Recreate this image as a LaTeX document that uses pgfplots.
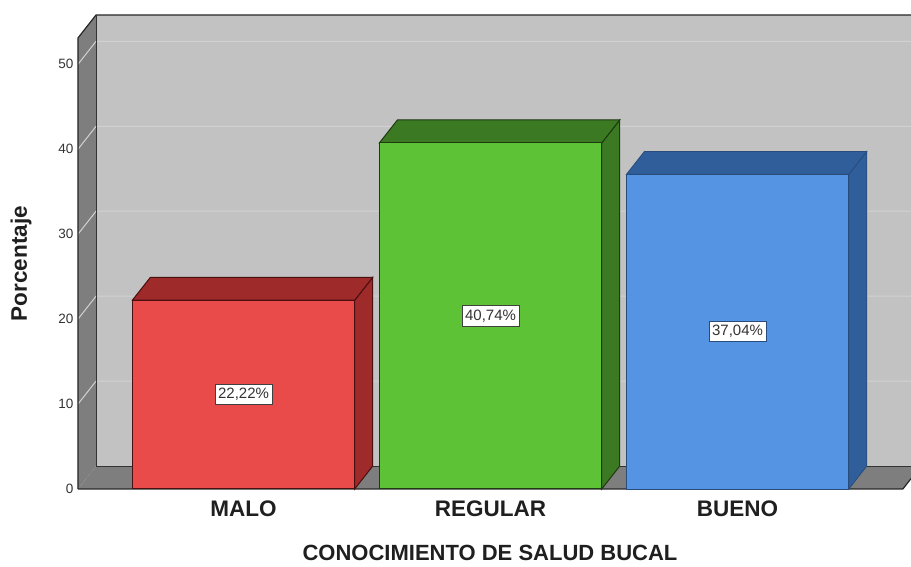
\documentclass[border=0pt]{standalone}
\usepackage{pgfplots}
\pgfplotsset{compat=1.18}
\usepackage{fontspec}
\setmainfont{Liberation Sans}
\definecolor{backwall}{HTML}{C2C2C2}
\definecolor{sidewall}{HTML}{7E7E7E}
\definecolor{gridc}{HTML}{D2D2D2}
\definecolor{redF}{HTML}{E94B4B}
\definecolor{redD}{HTML}{9E2A2A}
\definecolor{redO}{HTML}{4A1010}
\definecolor{greenF}{HTML}{5EC236}
\definecolor{greenD}{HTML}{3B7A22}
\definecolor{greenO}{HTML}{1E3A10}
\definecolor{blueF}{HTML}{5594E2}
\definecolor{blueD}{HTML}{305E9A}
\definecolor{blueO}{HTML}{284C7C}
\begin{document}
\begin{tikzpicture}
\begin{axis}[
  scale only axis, width=833pt, height=474pt,
  xmin=-0.670, xmax=2.702, ymin=0, ymax=55.8,
  clip=false,
  axis line style={draw=none},
  major tick length=0pt,
  xtick={0,1,2}, xticklabels={MALO,REGULAR,BUENO},
  ytick={0,10,20,30,40,50},
  /pgf/number format/assume math mode=true,
  yticklabel style={font=\fontsize{13.5}{14}\selectfont, text=black!80, xshift=-1pt},
  xticklabel style={font=\fontsize{22.5}{24}\selectfont\bfseries, text=black!88, anchor=center, yshift=-20pt},
  xlabel={CONOCIMIENTO DE SALUD BUCAL},
  ylabel={Porcentaje},
  xlabel style={font=\fontsize{22}{24}\selectfont\bfseries, text=black!88, at={(rel axis cs:0.4946,-0.134)}, anchor=center},
  ylabel style={font=\fontsize{22.5}{24}\selectfont\bfseries, text=black!88, at={(rel axis cs:-0.0684,0.4757)}, anchor=center},
]
% back wall, left wall, floor
\addplot[fill=backwall, draw=none] coordinates {(-0.597,2.7) (2.702,2.7) (2.702,55.8) (-0.597,55.8)} -- cycle;
\addplot[fill=sidewall, draw=none] coordinates {(-0.670,0) (-0.597,2.7) (-0.597,55.8) (-0.670,53.1)} -- cycle;
\addplot[fill=sidewall, draw=none] coordinates {(-0.670,0) (2.669,0) (2.702,1.22) (2.702,2.7) (-0.597,2.7)} -- cycle;
% grid lines
\addplot[gridc, line width=1pt] coordinates {(-0.670,10) (-0.597,12.7) (2.702,12.7)};
\addplot[gridc, line width=1pt] coordinates {(-0.670,20) (-0.597,22.7) (2.702,22.7)};
\addplot[gridc, line width=1pt] coordinates {(-0.670,30) (-0.597,32.7) (2.702,32.7)};
\addplot[gridc, line width=1pt] coordinates {(-0.670,40) (-0.597,42.7) (2.702,42.7)};
\addplot[gridc, line width=1pt] coordinates {(-0.670,50) (-0.597,52.7) (2.702,52.7)};
% frame lines
\addplot[black!85, line width=1.2pt] coordinates {(-0.670,0) (-0.670,53.1) (-0.597,55.8) (2.702,55.8)};
\addplot[black!80, line width=1pt] coordinates {(-0.597,55.8) (-0.597,2.7) (2.702,2.7)};
\addplot[black!85, line width=1.2pt] coordinates {(-0.670,0) (2.669,0) (2.702,1.22)};
% MALO
\addplot[fill=redD, draw=redO, line width=1pt] coordinates {(0.45,0) (0.523,2.7) (0.523,24.92) (0.45,22.22)} -- cycle;
\addplot[fill=redD, draw=redO, line width=1pt] coordinates {(-0.45,22.22) (-0.377,24.92) (0.523,24.92) (0.45,22.22)} -- cycle;
\addplot[ybar, bar width=0.9, bar shift=0, fill=redF, draw=redO, line width=1pt] coordinates {(0,22.22)};
% REGULAR
\addplot[fill=greenD, draw=greenO, line width=1pt] coordinates {(1.45,0) (1.523,2.7) (1.523,43.44) (1.45,40.74)} -- cycle;
\addplot[fill=greenD, draw=greenO, line width=1pt] coordinates {(0.55,40.74) (0.623,43.44) (1.523,43.44) (1.45,40.74)} -- cycle;
\addplot[ybar, bar width=0.9, bar shift=0, fill=greenF, draw=greenO, line width=1pt] coordinates {(1,40.74)};
% BUENO
\addplot[fill=blueD, draw=blueO, line width=0.8pt] coordinates {(2.45,0) (2.523,2.7) (2.523,39.74) (2.45,37.04)} -- cycle;
\addplot[fill=blueD, draw=blueO, line width=0.8pt] coordinates {(1.55,37.04) (1.623,39.74) (2.523,39.74) (2.45,37.04)} -- cycle;
\addplot[ybar, bar width=0.9, bar shift=0, fill=blueF, draw=blueO, line width=0.8pt] coordinates {(2,37.04)};
% value labels
\node[fill=white, draw=black!75, line width=0.8pt, inner xsep=3pt, inner ysep=4pt, font=\fontsize{15}{16}\selectfont, text=black!80] at (axis cs:0,11.11) {22,22\%};
\node[fill=white, draw=black!75, line width=0.8pt, inner xsep=3pt, inner ysep=4pt, font=\fontsize{15}{16}\selectfont, text=black!80] at (axis cs:1,20.37) {40,74\%};
\node[fill=white, draw=blueO, line width=0.8pt, inner xsep=3pt, inner ysep=4pt, font=\fontsize{15}{16}\selectfont, text=black!80] at (axis cs:2,18.52) {37,04\%};
\coordinate (bl) at (rel axis cs:0,0);
\end{axis}
\pgfresetboundingbox
\path[use as bounding box] ([xshift=-78pt,yshift=-78pt]bl) rectangle ([xshift=833pt,yshift=489pt]bl);
\end{tikzpicture}
\end{document}
